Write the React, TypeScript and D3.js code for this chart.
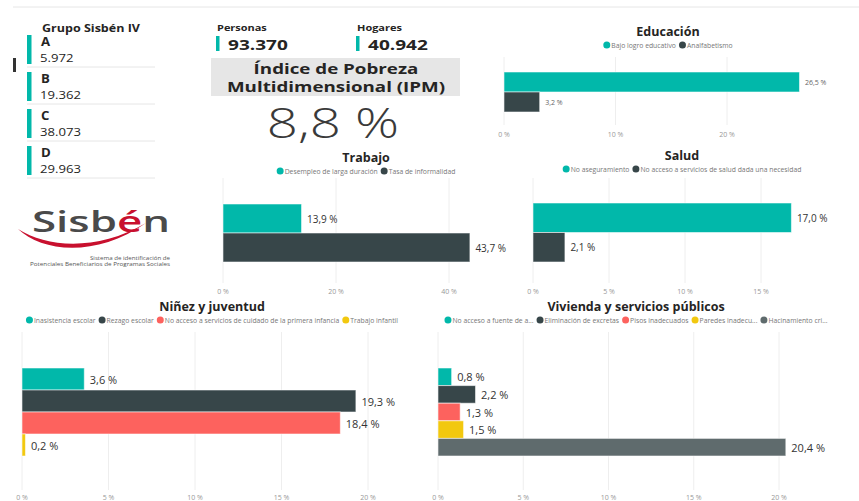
import React, { useEffect, useRef } from "react";
import * as d3 from "d3";

// ---------- DATA ----------
const grupoLetters = ["A", "B", "C", "D"];
const grupoValues = [5972, 19362, 38073, 29963];
const personasValue = 93370;
const hogaresValue = 40942;
const ipmValue = 8.8;

const educacionSeries = ["Bajo logro educativo", "Analfabetismo"];
const educacionValues = [26.5, 3.2];
const educacionTicks = [0, 10, 20];

const trabajoSeries = ["Desempleo de larga duración", "Tasa de informalidad"];
const trabajoValues = [13.9, 43.7];
const trabajoTicks = [0, 20, 40];

const saludSeries = ["No aseguramiento", "No acceso a servicios de salud dada una necesidad"];
const saludValues = [17.0, 2.1];
const saludTicks = [0, 5, 10, 15];

const ninezSeries = [
  "Inasistencia escolar",
  "Rezago escolar",
  "No acceso a servicios de cuidado de la primera infancia",
  "Trabajo infantil",
];
const ninezValues = [3.6, 19.3, 18.4, 0.2];
const ninezTicks = [0, 5, 10, 15, 20];

const viviendaSeries = [
  "No acceso a fuente de a...",
  "Eliminación de excretas",
  "Pisos inadecuados",
  "Paredes inadecu...",
  "Hacinamiento cri...",
];
const viviendaValues = [0.8, 2.2, 1.3, 1.5, 20.4];
const viviendaTicks = [0, 5, 10, 15, 20];

const palette = ["#01B8AA", "#374649", "#FD625E", "#F2C80F", "#5F6B6D"];

const FONT = "'Open Sans', 'Noto Sans', 'DejaVu Sans', sans-serif";
const locale = d3.formatLocale({ decimal: ",", thousands: ".", grouping: [3], currency: ["", ""] });
const fmtInt = locale.format(",d");
const fmt1 = locale.format(".1f");

type Sel = d3.Selection<any, unknown, null, undefined>;

// text with horizontal stretch
function stext(
  parent: Sel,
  x: number,
  y: number,
  txt: string,
  o: { size: number; weight?: number; fill?: string; anchor?: string; sx?: number; baseline?: string }
) {
  return parent
    .append("text")
    .attr("transform", `translate(${x},${y}) scale(${o.sx ?? 1},1)`)
    .attr("x", 0)
    .attr("y", 0)
    .attr("text-anchor", o.anchor ?? "start")
    .attr("dominant-baseline", o.baseline ?? "central")
    .attr("font-family", FONT)
    .attr("font-weight", o.weight ?? 400)
    .attr("font-size", o.size)
    .attr("fill", o.fill ?? "#252423")
    .text(txt);
}

type Panel = {
  title: string;
  series: string[];
  values: number[];
  ticks: number[];
  cx: number;
  titleY: number;
  legendY: number;
  x0: number;
  x1: number;
  bandTop: number;
  bandBottom: number;
  gridTop: number;
  gridBottom: number;
  tickY: number;
  labelSize: number;
  labelColor: string;
};

function drawPanel(svg: Sel, p: Panel) {
  const g = svg.append("g");
  const maxTick = p.ticks[p.ticks.length - 1];
  const x = d3.scaleLinear().domain([0, maxTick]).range([p.x0, p.x1]);
  const y = d3.scaleBand<string>().domain(p.series).range([p.bandTop, p.bandBottom]).paddingInner(0);

  stext(g, p.cx, p.titleY, p.title, { size: 12.5, weight: 700, anchor: "middle" });

  // legend
  const lg = g.append("g");
  let cursor = 0;
  p.series.forEach((s, i) => {
    lg.append("circle").attr("cx", cursor + 3.5).attr("cy", p.legendY).attr("r", 3.5).attr("fill", palette[i]);
    const t = lg
      .append("text")
      .attr("x", cursor + 8)
      .attr("y", p.legendY)
      .attr("dominant-baseline", "central")
      .attr("font-family", FONT)
      .attr("font-size", 6.8)
      .attr("fill", "#777")
      .text(s);
    const w = (t.node() as SVGTextElement).getComputedTextLength();
    cursor += 8 + w + 3;
  });
  const total = cursor - 3;
  lg.attr("transform", `translate(${p.cx - total / 2},0)`);

  // grid
  g.selectAll("line.grid")
    .data(p.ticks)
    .enter()
    .append("line")
    .attr("x1", (d) => x(d))
    .attr("x2", (d) => x(d))
    .attr("y1", p.gridTop)
    .attr("y2", p.gridBottom)
    .attr("stroke", "#eeeeee")
    .attr("stroke-width", 1);

  g.selectAll("text.tick")
    .data(p.ticks)
    .enter()
    .append("text")
    .attr("x", (d) => x(d))
    .attr("y", p.tickY)
    .attr("text-anchor", "middle")
    .attr("dominant-baseline", "central")
    .attr("font-family", FONT)
    .attr("font-size", 7)
    .attr("fill", "#999")
    .text((d) => `${d} %`);

  // bars
  p.series.forEach((s, i) => {
    const v = p.values[i];
    g.append("rect")
      .attr("x", x(0))
      .attr("y", y(s)!)
      .attr("width", Math.max(1, x(v) - x(0)))
      .attr("height", y.bandwidth())
      .attr("fill", palette[i])
      .attr("stroke", "rgba(255,255,255,0.55)")
      .attr("stroke-width", 1);
    g.append("text")
      .attr("x", x(v) + 5.5)
      .attr("y", y(s)! + y.bandwidth() / 2)
      .attr("dominant-baseline", "central")
      .attr("font-family", FONT)
      .attr("font-size", p.labelSize)
      .attr("fill", p.labelColor)
      .text(`${fmt1(v)} %`);
  });
}

export default function App() {
  const ref = useRef<SVGSVGElement>(null);

  useEffect(() => {
    const svg = d3.select(ref.current!) as Sel;
    svg.selectAll("*").remove();

    // top rule
    svg.append("line").attr("x1", 13).attr("x2", 859).attr("y1", 7).attr("y2", 7).attr("stroke", "#e6e6e6").attr("stroke-width", 1);

    // small dark mark
    svg.append("rect").attr("x", 13).attr("y", 58).attr("width", 3).attr("height", 14).attr("fill", "#333");

    // Grupo Sisbén IV cards
    stext(svg, 42, 27, "Grupo Sisbén IV", { size: 11, weight: 700, sx: 1.14 });

    const cardY = d3.scaleBand<string>().domain(grupoLetters).range([30, 178]).paddingInner(0);
    grupoLetters.forEach((L, i) => {
      const top = cardY(L)!;
      svg.append("rect").attr("x", 27).attr("y", top + 5).attr("width", 4.5).attr("height", 29).attr("fill", palette[0]);
      stext(svg, 41, top + 12, L, { size: 12, weight: 700, sx: 1.1 });
      stext(svg, 40, top + 28, fmtInt(grupoValues[i]), { size: 10.5, sx: 1.25 });
      svg.append("line")
        .attr("x1", 27)
        .attr("x2", 155)
        .attr("y1", top + cardY.bandwidth())
        .attr("y2", top + cardY.bandwidth())
        .attr("stroke", "#e6e6e6");
    });

    // Personas / Hogares
    const kpis = [
      { label: "Personas", value: personasValue, x: 216 },
      { label: "Hogares", value: hogaresValue, x: 356 },
    ];
    kpis.forEach((k) => {
      stext(svg, k.x + 1, 27, k.label, { size: 9, weight: 700, sx: 1.22 });
      svg.append("rect").attr("x", k.x).attr("y", 36).attr("width", 3.5).attr("height", 15).attr("fill", palette[0]);
      stext(svg, k.x + 12, 44, fmtInt(k.value), { size: 15, weight: 700, sx: 1.27 });
    });

    // IPM box
    svg.append("rect").attr("x", 211).attr("y", 58).attr("width", 249).attr("height", 38).attr("fill", "#e6e6e6");
    const ipmTitle = svg
      .append("text")
      .attr("transform", `translate(336,0) scale(1.25,1)`)
      .attr("text-anchor", "middle")
      .attr("font-family", FONT)
      .attr("font-weight", 700)
      .attr("font-size", 15)
      .attr("fill", "#252423");
    ["Índice de Pobreza", "Multidimensional (IPM)"].forEach((t, i) => {
      ipmTitle.append("tspan").attr("x", 0).attr("y", 74 + i * 18).text(t);
    });
    stext(svg, 333, 138, `${fmt1(ipmValue)} %`, {
      size: 42,
      weight: 300,
      anchor: "middle",
      sx: 1.3,
      baseline: "auto",
      fill: "#3a3a3a",
    });

    // Sisbén logo
    const logo = svg.append("g");
    logo.append("path")
      .attr("d", "M18,229 C42,252 96,258 146,223 C98,251 48,248 18,229 Z")
      .attr("fill", "#c8102e");
    const lt = logo.append("text")
      .attr("x", 32)
      .attr("y", 232)
      .attr("font-family", FONT)
      .attr("font-weight", 600)
      .attr("font-size", 28)
      .attr("fill", "#4a4a4a")
      .attr("textLength", 138)
      .attr("lengthAdjust", "spacingAndGlyphs");
    lt.append("tspan").text("Sisb");
    lt.append("tspan").attr("fill", "#c8102e").text("é");
    lt.append("tspan").text("n");
    const subs = [
      { t: "Sistema de identificación de", x: 90, w: 80 },
      { t: "Potenciales Beneficiarios de Programas Sociales", x: 30, w: 140 },
    ];
    subs.forEach((s, i) => {
      logo.append("text")
        .attr("x", s.x)
        .attr("y", 258 + i * 6)
        .attr("dominant-baseline", "central")
        .attr("font-family", FONT)
        .attr("font-size", 5)
        .attr("fill", "#555")
        .attr("textLength", s.w)
        .attr("lengthAdjust", "spacingAndGlyphs")
        .text(s.t);
    });

    const panels: Panel[] = [
      {
        title: "Educación", series: educacionSeries, values: educacionValues, ticks: educacionTicks,
        cx: 668, titleY: 31, legendY: 45, x0: 504, x1: 727, bandTop: 72, bandBottom: 112,
        gridTop: 57, gridBottom: 125, tickY: 134, labelSize: 7, labelColor: "#666",
      },
      {
        title: "Trabajo", series: trabajoSeries, values: trabajoValues, ticks: trabajoTicks,
        cx: 366, titleY: 157, legendY: 171, x0: 223, x1: 449, bandTop: 204, bandBottom: 262,
        gridTop: 178, gridBottom: 283, tickY: 291, labelSize: 10, labelColor: "#333",
      },
      {
        title: "Salud", series: saludSeries, values: saludValues, ticks: saludTicks,
        cx: 682, titleY: 155, legendY: 169, x0: 533, x1: 761, bandTop: 203, bandBottom: 262,
        gridTop: 178, gridBottom: 283, tickY: 291, labelSize: 10, labelColor: "#333",
      },
      {
        title: "Niñez y juventud", series: ninezSeries, values: ninezValues, ticks: ninezTicks,
        cx: 212, titleY: 306, legendY: 320, x0: 22, x1: 368, bandTop: 368, bandBottom: 456,
        gridTop: 332, gridBottom: 490, tickY: 497, labelSize: 11, labelColor: "#333",
      },
      {
        title: "Vivienda y servicios públicos", series: viviendaSeries, values: viviendaValues, ticks: viviendaTicks,
        cx: 636, titleY: 306, legendY: 320, x0: 438, x1: 779, bandTop: 368, bandBottom: 456,
        gridTop: 332, gridBottom: 490, tickY: 497, labelSize: 11, labelColor: "#333",
      },
    ];
    panels.forEach((p) => drawPanel(svg, p));
  }, []);

  return (
    <svg
      ref={ref}
      width={859}
      height={501}
      style={{ position: "absolute", left: 0, top: 0, background: "#fff", display: "block" }}
    />
  );
}
